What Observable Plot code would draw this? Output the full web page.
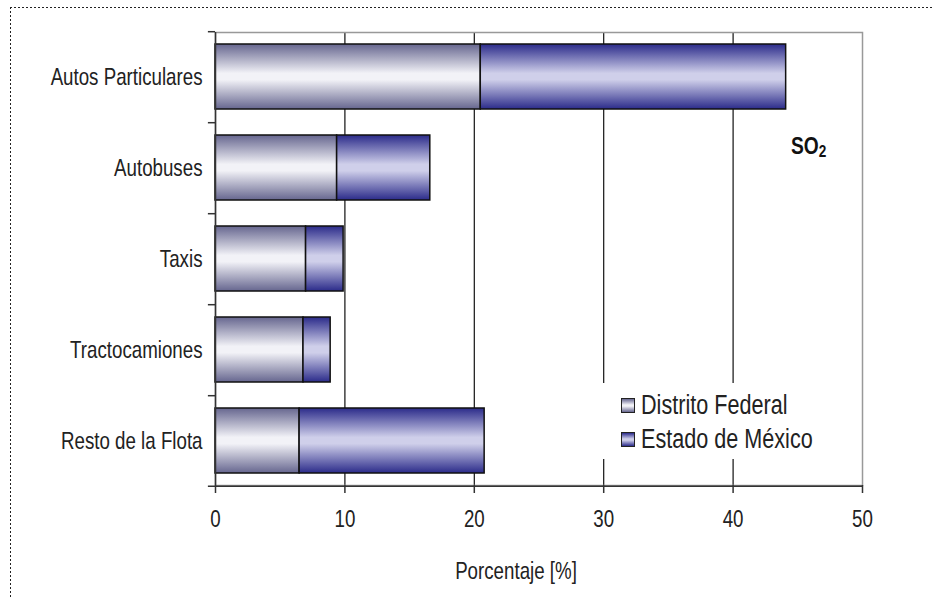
<!DOCTYPE html>
<html>
<head>
<meta charset="utf-8">
<script src="https://cdn.jsdelivr.net/npm/d3@7"></script>
<script src="https://cdn.jsdelivr.net/npm/@observablehq/plot@0.6"></script>
<style>
  body { margin: 0; background: #fff; }
  #wrap { position: relative; width: 933px; height: 597px; overflow: hidden; font-family: "Liberation Sans", Arial, sans-serif; }
  #wrap svg { position: absolute; left: 0; top: 0; background: transparent; }
  .dotH { position: absolute; left: 10px; top: 7px; width: 930px; height: 1px;
    background: repeating-linear-gradient(to right, #222 0 2px, transparent 2px 4px); }
  .dotV { position: absolute; left: 10px; top: 7px; width: 1px; height: 600px;
    background: repeating-linear-gradient(to bottom, #222 0 2px, transparent 2px 4px); }
  #legend { position: absolute; left: 598px; top: 383px; width: 205px; height: 76px; background: #fff; }
  .li { position: absolute; left: 23px; height: 30px; width: 200px; color: #222; white-space: nowrap; }
  .sw { position: absolute; left: 0; top: 1px; width: 12px; height: 13px; border: 1px solid #222; }
  .li span.t { position: absolute; left: 20px; top: -8px; font-size: 27px; line-height: 1.2; transform: scaleX(0.8); transform-origin: 0 0; }
  #so2 { position: absolute; left: 791px; top: 132px; font-size: 24px; font-weight: bold; color: #111; transform: scaleX(0.8); transform-origin: 0 0; white-space: nowrap; }
  #so2 sub { font-size: 17px; vertical-align: -3px; }
</style>
</head>
<body>
<div id="wrap">
  <div id="chart"></div>
  <div id="so2">SO<sub>2</sub></div>
  <div id="legend"></div>
  <div class="dotH"></div>
  <div class="dotV"></div>
</div>
<script>
const categories = ["Autos Particulares", "Autobuses", "Taxis", "Tractocamiones", "Resto de la Flota"];
const distritoFederal = [20.5, 9.4, 7.0, 6.8, 6.5];
const estadoMexico = [23.6, 7.2, 2.9, 2.1, 14.3];
const seriesNames = ["Distrito Federal", "Estado de México"];
const xTicks = [0, 10, 20, 30, 40, 50];
const gridTicks = [10, 20, 30, 40];

const rows = categories.map((c, i) => ({cat: c, df: distritoFederal[i], em: estadoMexico[i]}));
const gradDF = "url(#gDF)";
const gradEM = "url(#gEM)";
const W = 933, H = 597, mL = 215, mR = 71, mT = 32, mB = 112;
const step = (H - mT - mB) / categories.length;

const svg = Plot.plot({
  width: W, height: H,
  marginLeft: mL, marginRight: mR, marginTop: mT, marginBottom: mB,
  style: {fontFamily: '"Liberation Sans", Arial, sans-serif', color: "#222", background: "transparent"},
  x: {domain: [0, 50]},
  y: {domain: categories, paddingInner: 0.29, paddingOuter: 0.13},
  marks: [
    Plot.ruleX(gridTicks, {stroke: "#111", strokeWidth: 1.2}),
    Plot.frame({stroke: "#999", strokeWidth: 1.5}),
    Plot.barX(rows, {y: "cat", x1: 0, x2: "df", fill: gradDF, stroke: "#111", strokeWidth: 1.5, inset: 0}),
    Plot.barX(rows, {y: "cat", x1: "df", x2: d => d.df + d.em, fill: gradEM, stroke: "#111", strokeWidth: 1.5, inset: 0}),
    Plot.ruleX([0], {stroke: "#333", strokeWidth: 1.5}),
    Plot.ruleY(categories, {y: d => d, x1: -0.55, x2: 0, dy: -step / 2, stroke: "#333", strokeWidth: 1.5, clip: false}),
    Plot.ruleY(categories.slice(-1), {y: d => d, x1: -0.55, x2: 50, dy: step / 2, stroke: "#333", strokeWidth: 1.5, clip: false}),
    Plot.axisX({ticks: xTicks, tickSize: 8, tickPadding: 16, fontSize: 24, stroke: "#333", strokeWidth: 1.5,
      label: "Porcentaje [%]", labelAnchor: "center", labelArrow: "none", labelOffset: 93}),
    Plot.axisY({tickSize: 0, tickPadding: 13, fontSize: 24, label: null})
  ]
});

// narrow (Arial Narrow–like) glyphs: squeeze the axis texts horizontally about their anchor
d3.select(svg).selectAll("g[aria-label$='tick label'] text")
  .attr("transform", function() { return (this.getAttribute("transform") || "") + " scale(0.78,1)"; });
d3.select(svg).selectAll("g[aria-label$='axis label'] text")
  .attr("transform", function() { return "translate(-23,0) " + (this.getAttribute("transform") || "") + " scale(0.78,1)"; });

const defs = d3.select(svg).insert("defs", ":first-child");
function grad(id, edge, mid) {
  const g = defs.append("linearGradient").attr("id", id)
    .attr("x1", 0).attr("y1", 0).attr("x2", 0).attr("y2", 1);
  g.append("stop").attr("offset", "0%").attr("stop-color", edge);
  g.append("stop").attr("offset", "45%").attr("stop-color", mid);
  g.append("stop").attr("offset", "55%").attr("stop-color", mid);
  g.append("stop").attr("offset", "100%").attr("stop-color", edge);
}
grad("gDF", "#66668f", "#f2f2f7");
grad("gEM", "#2b2b8a", "#cfcfea");
document.getElementById("chart").appendChild(svg);

const legend = document.getElementById("legend");
const swatchBg = [
  "linear-gradient(to bottom, #66668f, #f2f2f7 45%, #f2f2f7 55%, #66668f)",
  "linear-gradient(to bottom, #2b2b8a, #cfcfea 45%, #cfcfea 55%, #2b2b8a)"
];
seriesNames.forEach((name, i) => {
  const item = document.createElement("div");
  item.className = "li";
  item.style.top = (14 + i * 34) + "px";
  item.innerHTML = `<div class="sw" style="background:${swatchBg[i]}"></div><span class="t"></span>`;
  item.querySelector(".t").textContent = name;
  legend.appendChild(item);
});
</script>
</body>
</html>
